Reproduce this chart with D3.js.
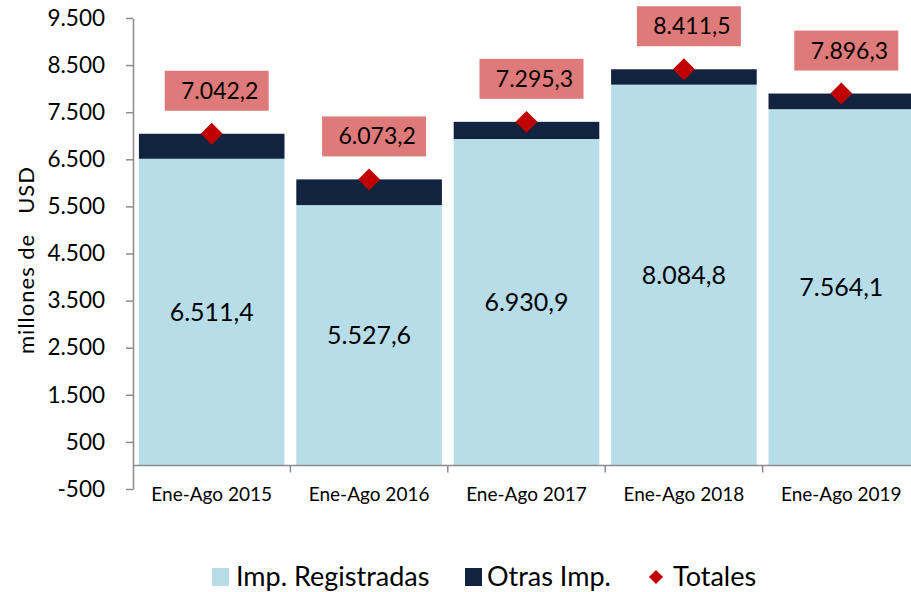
<!DOCTYPE html>
<html>
<head>
<meta charset="utf-8">
<script src="https://cdn.jsdelivr.net/npm/d3@7"></script>
<style>
  body { margin: 0; background: #fff; }
  #graph { width: 911px; height: 592px; }
  text { font-family: Lato, "Open Sans", sans-serif; }
</style>
</head>
<body>
<div id="graph"></div>
<script>
const categories = ["Ene-Ago 2015", "Ene-Ago 2016", "Ene-Ago 2017", "Ene-Ago 2018", "Ene-Ago 2019"];
const registradas = [6511.4, 5527.6, 6930.9, 8084.8, 7564.1];
const totales = [7042.2, 6073.2, 7295.3, 8411.5, 7896.3];
const yTicks = [-500, 500, 1500, 2500, 3500, 4500, 5500, 6500, 7500, 8500, 9500];

function chart() {
  const colors = {
    reg: "#b7dde8",
    otras: "#12233f",
    total: "#c00000",
    box: "#df7a7a",
    axis: "#8c8c8c"
  };
  const fmt = d3.formatLocale({ decimal: ",", thousands: ".", grouping: [3], currency: ["", ""], minus: "-" });
  const f1 = fmt.format(",.1f");
  const f0 = fmt.format(",.0f");

  const rows = categories.map(function(c, i) {
    return { cat: c, reg: registradas[i], otras: totales[i] - registradas[i], total: totales[i] };
  });

  const svg = d3.select("#graph").append("svg")
    .attr("width", 911)
    .attr("height", 592);

  const step = 157.4;
  const x = d3.scaleBand()
    .domain(categories)
    .range([133, 133 + step * categories.length])
    .paddingInner(0.075)
    .paddingOuter(0.0375);

  const y = d3.scaleLinear().domain([-500, 9500]).range([489, 18]);

  // stacked bars
  const stack = d3.stack().keys(["reg", "otras"])(rows);
  svg.append("g").selectAll("g")
    .data(stack)
    .enter().append("g")
    .attr("fill", function(d) { return colors[d.key]; })
    .selectAll("rect")
    .data(function(d) { return d; })
    .enter().append("rect")
    .attr("x", function(d) { return x(d.data.cat); })
    .attr("width", x.bandwidth())
    .attr("y", function(d) { return y(d[1]); })
    .attr("height", function(d) { return y(d[0]) - y(d[1]); });

  // y axis
  const yAxis = svg.append("g")
    .attr("transform", "translate(133,0)")
    .call(d3.axisLeft(y).tickValues(yTicks).tickSize(7).tickSizeOuter(0).tickPadding(21)
      .tickFormat(function(d) { return f0(d); }));
  yAxis.select(".domain").attr("stroke", colors.axis).attr("stroke-width", 1.5);
  yAxis.selectAll(".tick line").attr("stroke", colors.axis).attr("stroke-width", 1.5);
  yAxis.selectAll(".tick text").attr("font-size", 22.5).attr("fill", "#000")
    .style("font-family", "Lato, sans-serif");

  // x axis at zero
  const xAxis = svg.append("g")
    .attr("transform", "translate(0," + y(0) + ")");
  xAxis.append("line")
    .attr("x1", 133).attr("x2", 911)
    .attr("stroke", colors.axis).attr("stroke-width", 1.5);
  const bounds = categories.map(function(c) { return x(c) - x.step() * x.paddingOuter(); });
  xAxis.selectAll("line.tk")
    .data(bounds.slice(1))
    .enter().append("line")
    .attr("class", "tk")
    .attr("x1", function(d) { return d; }).attr("x2", function(d) { return d; })
    .attr("y1", 0).attr("y2", 7)
    .attr("stroke", colors.axis).attr("stroke-width", 1.5);
  xAxis.selectAll("text")
    .data(categories)
    .enter().append("text")
    .attr("x", function(d) { return x(d) + x.bandwidth() / 2; })
    .attr("y", 29)
    .attr("dy", "0.35em")
    .attr("text-anchor", "middle")
    .attr("font-size", 19)
    .text(function(d) { return d; });

  // y title
  svg.append("text")
    .attr("transform", "translate(34,260) rotate(-90)")
    .attr("text-anchor", "middle")
    .attr("font-size", 22)
    .attr("letter-spacing", 1)
    .attr("xml:space", "preserve")
    .text("millones de   USD");

  // registered labels
  svg.append("g").selectAll("text")
    .data(rows)
    .enter().append("text")
    .attr("x", function(d) { return x(d.cat) + x.bandwidth() / 2; })
    .attr("y", function(d) { return y(d.reg / 2); })
    .attr("dy", "0.35em")
    .attr("text-anchor", "middle")
    .attr("font-size", 25)
    .text(function(d) { return f1(d.reg); });

  // total label boxes
  const lab = svg.append("g").selectAll("g")
    .data(rows)
    .enter().append("g")
    .attr("transform", function(d) {
      return "translate(" + (x(d.cat) + x.bandwidth() / 2 + 5) + "," + (y(d.total) - 43) + ")";
    });
  lab.append("rect")
    .attr("x", -52).attr("y", -20)
    .attr("width", 104).attr("height", 40)
    .attr("fill", colors.box);
  lab.append("text")
    .attr("x", 3)
    .attr("dy", "0.35em")
    .attr("text-anchor", "middle")
    .attr("font-size", 23)
    .text(function(d) { return f1(d.total); });

  // diamonds
  const diamond = d3.symbol().type(d3.symbolSquare).size(240);
  svg.append("g").selectAll("path")
    .data(rows)
    .enter().append("path")
    .attr("d", diamond)
    .attr("fill", colors.total)
    .attr("transform", function(d) {
      return "translate(" + (x(d.cat) + x.bandwidth() / 2) + "," + y(d.total) + ") rotate(45)";
    });

  // legend
  const legend = svg.append("g").attr("transform", "translate(0,577)");
  legend.append("rect").attr("x", 212).attr("y", -9).attr("width", 17).attr("height", 18).attr("fill", colors.reg);
  legend.append("text").attr("x", 236).attr("dy", "0.35em").attr("font-size", 27).text("Imp. Registradas");
  legend.append("rect").attr("x", 465).attr("y", -9).attr("width", 17).attr("height", 18).attr("fill", colors.otras);
  legend.append("text").attr("x", 487).attr("dy", "0.35em").attr("font-size", 27).text("Otras Imp.");
  legend.append("path").attr("d", d3.symbol().type(d3.symbolSquare).size(100))
    .attr("transform", "translate(656,0) rotate(45)").attr("fill", colors.total);
  legend.append("text").attr("x", 673).attr("dy", "0.35em").attr("font-size", 27).text("Totales");
}

chart();
</script>
</body>
</html>
